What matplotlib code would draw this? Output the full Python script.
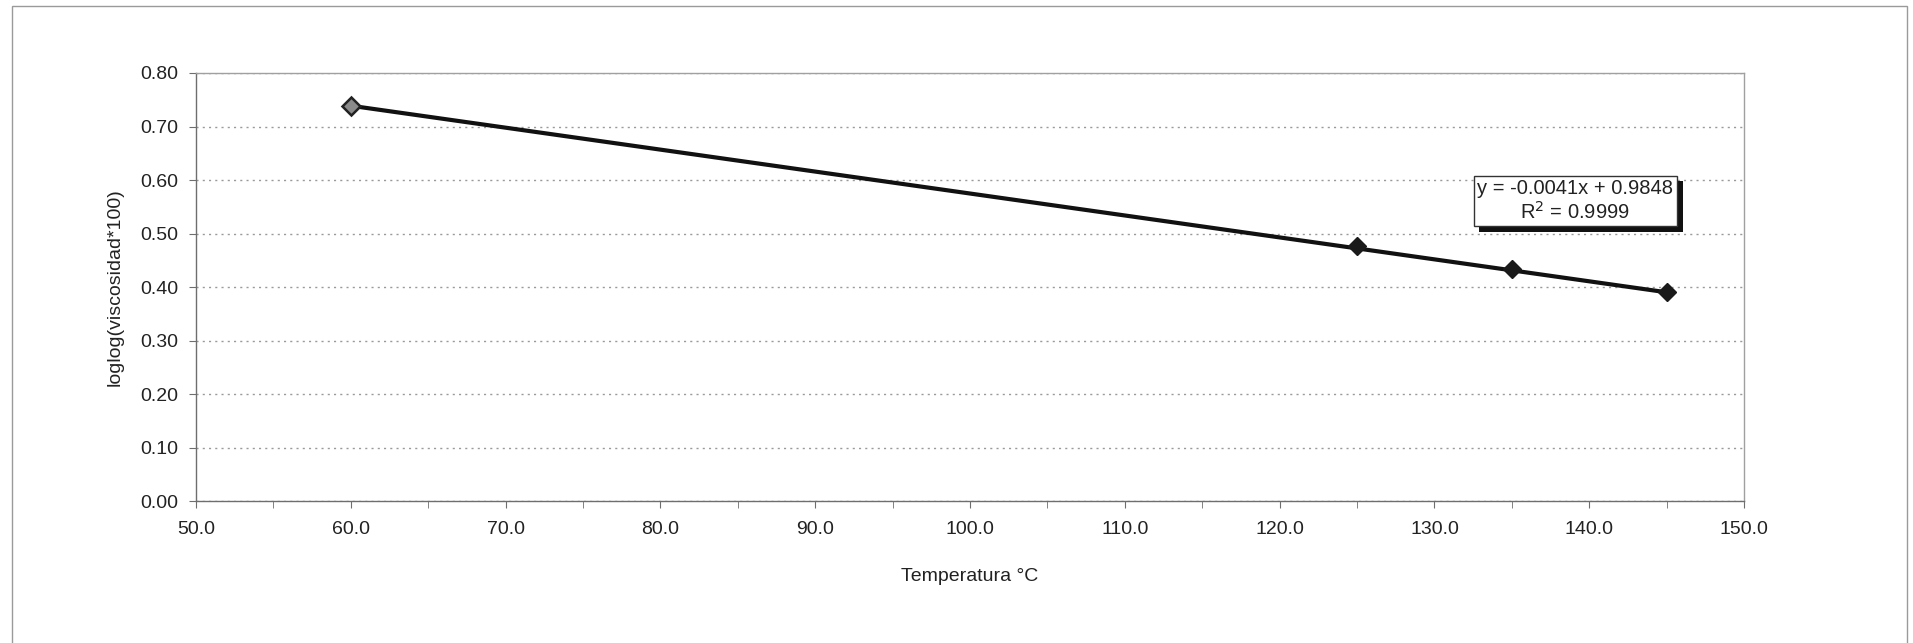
import numpy as np
import matplotlib
matplotlib.use("Agg")
import matplotlib.pyplot as plt
from matplotlib.patches import Rectangle
import matplotlib.patheffects as pe
from matplotlib.ticker import MultipleLocator, FormatStrFormatter

plt.rcParams['font.family'] = ['Liberation Sans', 'DejaVu Sans']

# measured points: temperature (C) vs loglog(viscosity*100)
temperatura = [60.0, 125.0, 135.0, 145.0]
loglog_visc = [0.738, 0.477, 0.433, 0.391]

# linear trend reported on the chart
pendiente = -0.0041
intercepto = 0.9848
r2 = 0.9999

fig = plt.figure(figsize=(19.13, 6.43), dpi=100)
ax = fig.add_axes([0.1025, 0.2205, 0.8092, 0.666])

# outer chart frame
fig.patches.append(Rectangle((12 / 1913, -0.05), (1907 - 12) / 1913, 1.05 - 6 / 643,
                             transform=fig.transFigure, fill=False,
                             edgecolor='#9a9a9a', lw=1.0))

# trend line over the measured range
xt = np.array([min(temperatura), max(temperatura)])
yt = pendiente * xt + intercepto
ax.plot(xt, yt, color='#111111', lw=3.0, zorder=3)

# markers (first one drawn lighter)
ax.plot(temperatura[:1], loglog_visc[:1], 'D', ms=9.5, mfc='#8a8a8a',
        mec='#222222', mew=1.8, zorder=4)
ax.plot(temperatura[1:], loglog_visc[1:], 'D', ms=9.5, mfc='#1a1a1a',
        mec='#1a1a1a', zorder=4)

ax.set_xlim(50, 150)
ax.set_ylim(0, 0.8)
ax.xaxis.set_major_locator(MultipleLocator(10))
ax.xaxis.set_minor_locator(MultipleLocator(5))
ax.yaxis.set_major_locator(MultipleLocator(0.1))
ax.xaxis.set_major_formatter(FormatStrFormatter('%.1f'))
ax.yaxis.set_major_formatter(FormatStrFormatter('%.2f'))

ax.grid(axis='y', linestyle=(0, (1.5, 3)), color='#9a9a9a', lw=1.0, zorder=0)
for side in ['left', 'bottom']:
    ax.spines[side].set_color('#6e6e6e')
    ax.spines[side].set_linewidth(1.0)
for side in ['top', 'right']:
    ax.spines[side].set_color('#a0a0a0')
    ax.spines[side].set_linewidth(1.0)

ax.tick_params(axis='both', which='both', direction='out', length=5,
               color='#6e6e6e', labelsize=14, labelcolor='#222222')
ax.tick_params(axis='x', which='major', pad=9)
ax.tick_params(axis='y', which='major', pad=8)

ax.set_xlabel('Temperatura °C', fontsize=14, color='#222222', labelpad=22)
ax.set_ylabel('loglog(viscosidad*100)', fontsize=14, color='#222222', labelpad=12)

# equation box with shadow
txt = ax.text(0.891, 0.752,
              f'y = {pendiente:.4f}x + {intercepto:.4f}\nR$^2$ = {r2:.4f}',
              transform=ax.transAxes, ha='center', va='top', fontsize=14.5,
              color='#222222', linespacing=1.15,
              bbox=dict(boxstyle='square,pad=0.18', fc='white', ec='#333333', lw=1.0),
              zorder=5)
txt.get_bbox_patch().set_path_effects([
    pe.SimplePatchShadow(offset=(4, -4), shadow_rgbFace='#111111', alpha=1.0),
    pe.Normal()])

fig.savefig('out.png', dpi=100, facecolor='white')
